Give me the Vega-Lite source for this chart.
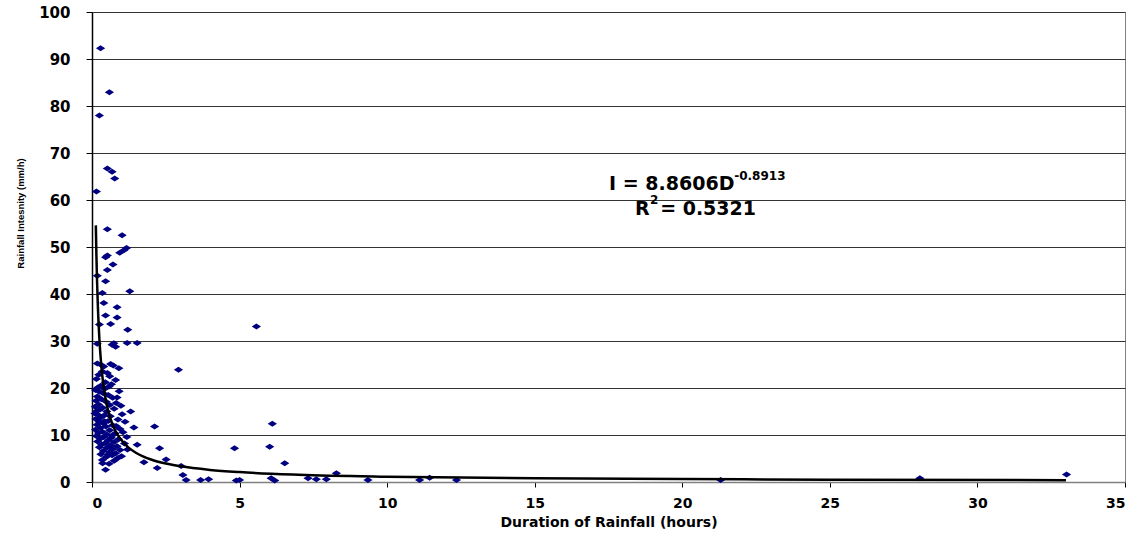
{
  "$schema": "https://vega.github.io/schema/vega-lite/v6.json",
  "autosize": "none",
  "width": 1033,
  "height": 470,
  "padding": {"left": 92, "top": 12, "right": 12, "bottom": 56},
  "background": "white",
  "config": {
    "view": {"stroke": "#808080", "strokeWidth": 1},
    "font": "DejaVu Sans"
  },
  "datasets": {
    "obs": [
      {"D": 0.29, "I": 92.3}, {"D": 0.59, "I": 82.9}, {"D": 0.25, "I": 78.0},
      {"D": 0.52, "I": 66.7}, {"D": 0.68, "I": 66.0}, {"D": 0.77, "I": 64.6}, {"D": 0.15, "I": 61.8},
      {"D": 0.52, "I": 53.8}, {"D": 1.02, "I": 52.5}, {"D": 1.17, "I": 49.8}, {"D": 1.08, "I": 49.3},
      {"D": 0.94, "I": 48.8}, {"D": 0.52, "I": 48.2}, {"D": 0.46, "I": 47.8}, {"D": 0.71, "I": 46.3},
      {"D": 0.52, "I": 45.1}, {"D": 0.18, "I": 43.9}, {"D": 0.46, "I": 42.7}, {"D": 1.28, "I": 40.6},
      {"D": 0.35, "I": 40.2}, {"D": 0.40, "I": 38.1}, {"D": 0.85, "I": 37.2}, {"D": 0.46, "I": 35.4},
      {"D": 0.85, "I": 35.0}, {"D": 0.25, "I": 33.5}, {"D": 0.63, "I": 33.6}, {"D": 1.21, "I": 32.4},
      {"D": 0.18, "I": 29.4}, {"D": 0.68, "I": 29.2}, {"D": 0.80, "I": 28.8}, {"D": 1.19, "I": 29.6},
      {"D": 1.53, "I": 29.6}, {"D": 0.74, "I": 29.5},
      {"D": 0.18, "I": 25.2}, {"D": 0.29, "I": 25.0}, {"D": 0.40, "I": 24.6}, {"D": 0.63, "I": 25.1},
      {"D": 0.72, "I": 24.8}, {"D": 0.91, "I": 24.2}, {"D": 0.35, "I": 23.5}, {"D": 0.52, "I": 23.2},
      {"D": 0.23, "I": 22.8}, {"D": 0.60, "I": 22.5}, {"D": 0.80, "I": 21.7}, {"D": 0.15, "I": 21.9},
      {"D": 0.45, "I": 21.2}, {"D": 0.30, "I": 20.5}, {"D": 0.66, "I": 20.8}, {"D": 0.20, "I": 20.1},
      {"D": 0.12, "I": 19.6}, {"D": 0.25, "I": 19.2}, {"D": 0.38, "I": 18.9}, {"D": 0.55, "I": 18.5},
      {"D": 0.18, "I": 18.2}, {"D": 0.70, "I": 17.9}, {"D": 0.32, "I": 17.6}, {"D": 0.14, "I": 17.3},
      {"D": 0.48, "I": 17.1}, {"D": 0.82, "I": 16.8}, {"D": 0.22, "I": 16.5}, {"D": 0.60, "I": 16.4},
      {"D": 0.11, "I": 16.0}, {"D": 0.36, "I": 15.8}, {"D": 0.75, "I": 15.6}, {"D": 0.27, "I": 15.4},
      {"D": 0.16, "I": 15.1}, {"D": 0.50, "I": 15.0}, {"D": 1.31, "I": 15.0},
      {"D": 0.10, "I": 14.6}, {"D": 0.20, "I": 14.3}, {"D": 0.42, "I": 14.2}, {"D": 0.62, "I": 14.0},
      {"D": 0.30, "I": 13.7}, {"D": 0.13, "I": 13.4}, {"D": 0.88, "I": 13.3}, {"D": 0.55, "I": 13.0},
      {"D": 0.24, "I": 12.8}, {"D": 0.38, "I": 12.5}, {"D": 0.17, "I": 12.2}, {"D": 0.70, "I": 12.1},
      {"D": 0.47, "I": 11.8}, {"D": 1.42, "I": 11.6}, {"D": 0.28, "I": 11.5}, {"D": 0.95, "I": 11.3},
      {"D": 0.12, "I": 11.1}, {"D": 0.60, "I": 11.0}, {"D": 0.35, "I": 10.7}, {"D": 0.22, "I": 10.4},
      {"D": 0.78, "I": 10.3}, {"D": 0.50, "I": 10.1}, {"D": 1.05, "I": 10.6},
      {"D": 0.15, "I": 9.8}, {"D": 0.40, "I": 9.6}, {"D": 0.65, "I": 9.4}, {"D": 0.28, "I": 9.2},
      {"D": 0.90, "I": 9.1}, {"D": 0.55, "I": 8.9}, {"D": 0.19, "I": 8.6}, {"D": 0.75, "I": 8.5},
      {"D": 0.45, "I": 8.3}, {"D": 1.10, "I": 8.2}, {"D": 0.33, "I": 8.0}, {"D": 0.62, "I": 7.8},
      {"D": 1.53, "I": 7.9}, {"D": 0.85, "I": 7.6}, {"D": 0.25, "I": 7.4}, {"D": 0.50, "I": 7.3},
      {"D": 0.70, "I": 7.0}, {"D": 0.95, "I": 6.8}, {"D": 0.38, "I": 6.6}, {"D": 0.60, "I": 6.4},
      {"D": 0.80, "I": 6.1}, {"D": 0.30, "I": 5.9}, {"D": 0.68, "I": 5.7}, {"D": 1.00, "I": 5.5},
      {"D": 0.48, "I": 5.3}, {"D": 0.88, "I": 5.1},
      {"D": 0.98, "I": 16.2}, {"D": 1.12, "I": 12.8}, {"D": 0.92, "I": 19.3}, {"D": 1.18, "I": 9.6},
      {"D": 0.42, "I": 19.8}, {"D": 0.58, "I": 20.3}, {"D": 0.85, "I": 18.0}, {"D": 1.02, "I": 14.4},
      {"D": 0.68, "I": 9.9}, {"D": 0.82, "I": 11.9}, {"D": 1.20, "I": 6.9}, {"D": 0.42, "I": 12.9},
      {"D": 0.36, "I": 4.0}, {"D": 0.55, "I": 5.9},
      {"D": 0.35, "I": 4.7}, {"D": 0.75, "I": 4.5}, {"D": 0.58, "I": 3.9}, {"D": 0.46, "I": 2.6},
      {"D": 1.76, "I": 4.2}, {"D": 2.21, "I": 3.0},
      {"D": 5.57, "I": 33.1}, {"D": 2.93, "I": 23.9}, {"D": 2.12, "I": 11.8}, {"D": 6.11, "I": 12.4},
      {"D": 2.29, "I": 7.2}, {"D": 4.83, "I": 7.2}, {"D": 6.02, "I": 7.5}, {"D": 2.51, "I": 4.8},
      {"D": 3.02, "I": 3.4}, {"D": 6.53, "I": 4.0}, {"D": 3.08, "I": 1.5}, {"D": 3.19, "I": 0.4},
      {"D": 3.68, "I": 0.4}, {"D": 3.95, "I": 0.6}, {"D": 4.89, "I": 0.3}, {"D": 5.00, "I": 0.4},
      {"D": 6.07, "I": 0.8}, {"D": 6.19, "I": 0.3}, {"D": 7.32, "I": 0.8}, {"D": 7.60, "I": 0.6},
      {"D": 7.94, "I": 0.6}, {"D": 8.28, "I": 1.85}, {"D": 9.35, "I": 0.4}, {"D": 11.10, "I": 0.4},
      {"D": 11.44, "I": 0.9}, {"D": 12.35, "I": 0.4}, {"D": 21.30, "I": 0.4}, {"D": 28.05, "I": 0.8},
      {"D": 33.02, "I": 1.6}
    ],
    "trend": [
      {"D": 0.13, "I": 54.6}, {"D": 0.15, "I": 48.07}, {"D": 0.2, "I": 37.2}, {"D": 0.25, "I": 30.49},
      {"D": 0.3, "I": 25.91}, {"D": 0.35, "I": 22.59}, {"D": 0.4, "I": 20.05}, {"D": 0.5, "I": 16.44},
      {"D": 0.6, "I": 13.97}, {"D": 0.7, "I": 12.18}, {"D": 0.8, "I": 10.81}, {"D": 1.0, "I": 8.86},
      {"D": 1.25, "I": 7.26}, {"D": 1.5, "I": 6.17}, {"D": 2.0, "I": 4.78}, {"D": 2.5, "I": 3.92},
      {"D": 3.0, "I": 3.33}, {"D": 4.0, "I": 2.575}, {"D": 5.0, "I": 2.11}, {"D": 7.0, "I": 1.564},
      {"D": 10.0, "I": 1.138}, {"D": 15.0, "I": 0.793}, {"D": 20.0, "I": 0.614}, {"D": 25.0, "I": 0.502},
      {"D": 33.0, "I": 0.393}
    ],
    "bigtext": [
      {"D": 17.52, "I": 62.23, "t": "I = 8.8606D"},
      {"D": 18.40, "I": 56.81, "t": "R"},
      {"D": 19.25, "I": 56.81, "t": "= 0.5321"}
    ],
    "suptext": [
      {"D": 21.76, "I": 64.3, "t": "-0.8913"},
      {"D": 18.91, "I": 59.15, "t": "2"}
    ]
  },
  "encoding": {
    "x": {
      "field": "D", "type": "quantitative",
      "scale": {"domain": [0, 35], "nice": false, "zero": false},
      "axis": {
        "title": "Duration of Rainfall (hours)",
        "values": [0, 5, 10, 15, 20, 25, 30, 35],
        "grid": false,
        "domainColor": "#808080", "domainWidth": 1.5,
        "tickColor": "#000000", "tickSize": 5,
        "labelFont": "DejaVu Sans", "labelFontWeight": "bold", "labelFontSize": 14, "labelColor": "#000000",
        "labelPadding": 9,
        "titleFont": "DejaVu Sans", "titleFontWeight": "bold", "titleFontSize": 14, "titleColor": "#000000",
        "titlePadding": 5
      }
    },
    "y": {
      "field": "I", "type": "quantitative",
      "scale": {"domain": [0, 100], "nice": false},
      "axis": {
        "title": "Rainfall Intesnity (mm/h)",
        "values": [0, 10, 20, 30, 40, 50, 60, 70, 80, 90, 100],
        "grid": true, "gridColor": "#333333", "gridWidth": 1, "gridOpacity": 1,
        "domainColor": "#000000", "domainWidth": 1.5,
        "tickColor": "#000000", "tickSize": 6,
        "labelFont": "DejaVu Sans", "labelFontWeight": "bold", "labelFontSize": 15, "labelColor": "#000000",
        "labelPadding": 16,
        "titleFont": "Liberation Sans", "titleFontWeight": "bold", "titleFontSize": 9.5, "titleColor": "#000000",
        "titleY": 201, "titleX": -67
      }
    }
  },
  "layer": [
    {
      "data": {"name": "obs"},
      "mark": {"type": "point", "shape": "M-1,0L0,-0.65L1,0L0,0.65Z", "filled": true, "size": 85, "color": "#000080", "opacity": 1}
    },
    {
      "data": {"name": "trend"},
      "mark": {"type": "line", "color": "#000000", "strokeWidth": 2.5, "interpolate": "monotone"}
    },
    {
      "data": {"name": "bigtext"},
      "mark": {"type": "text", "align": "left", "baseline": "alphabetic", "font": "DejaVu Sans", "fontWeight": "bold", "fontSize": 19, "color": "#000000"},
      "encoding": {"text": {"field": "t"}}
    },
    {
      "data": {"name": "suptext"},
      "mark": {"type": "text", "align": "left", "baseline": "alphabetic", "font": "DejaVu Sans", "fontWeight": "bold", "fontSize": 12, "color": "#000000"},
      "encoding": {"text": {"field": "t"}}
    }
  ]
}
